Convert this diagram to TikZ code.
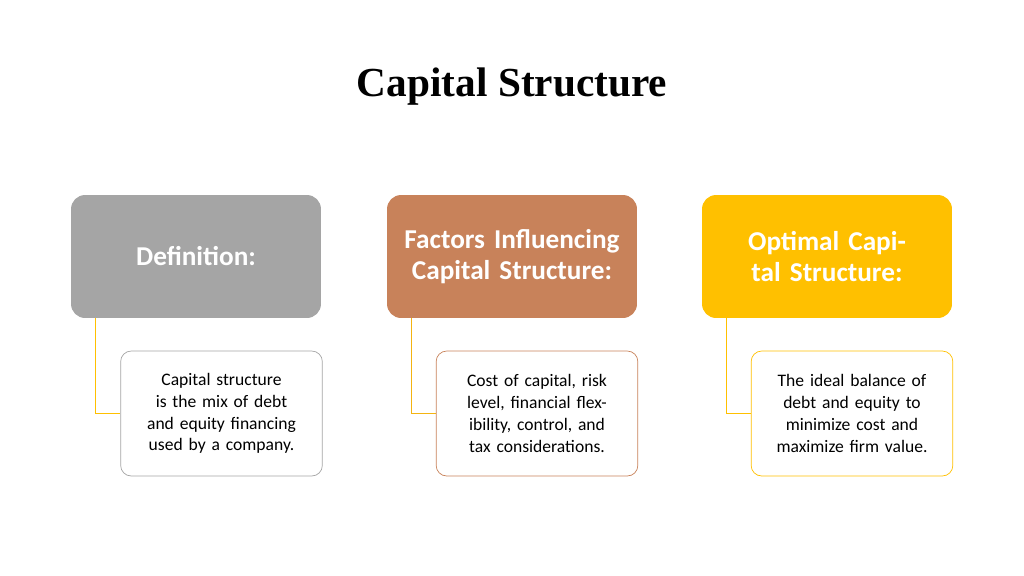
\documentclass[tikz,border=0pt]{standalone}
\usepackage{fontspec}
\setmainfont{Carlito}
\newfontfamily\titlefont{Liberation Serif}
\usetikzlibrary{positioning}
\definecolor{defgray}{HTML}{A5A5A5}
\definecolor{facbrown}{HTML}{C8825A}
\definecolor{optgold}{HTML}{FFC000}
\begin{document}
\begin{tikzpicture}[x=0.02cm,y=-0.02cm]
        \tikzstyle{head} = [rounded corners=8pt,minimum width=5cm,minimum height=2.46cm,
          text width=4.6cm,align=center,text=white,font=\fontsize{15.5}{17.5}\selectfont\bfseries]
        \tikzstyle{body} = [draw,fill=white,rounded corners=6pt,minimum width=4.02cm,minimum height=2.5cm,
          text width=3.8cm,align=center,font=\fontsize{10}{12.4}\selectfont]
        \tikzstyle{link} = [thin]
        \useasboundingbox (0,0) rectangle (1024,575);
        \node[font=\titlefont\fontsize{23.5}{26}\selectfont\bfseries] (title) at (512,87) {Capital Structure};

        \foreach \l/\x/\c/\t in {def/196/defgray/{Definition:},
          fac/512/facbrown/{Factors Influencing Capital Structure:},
          opt/827/optgold/{Optimal Capital Structure:}} {
          \node[head,fill=\c] (\l) at (\x,256.5) {\t};
        }
        \node[body,draw=defgray] (defb) at (221.5,413.5)
          {Capital structure is the mix of debt and equity financing used by a company.};
        \node[body,draw=facbrown] (facb) at (537,413.5)
          {Cost of capital, risk level, financial flexibility, control, and tax considerations.};
        \node[body,draw=optgold] (optb) at (852,413.5)
          {The ideal balance of debt and equity to minimize cost and maximize firm value.};

        \foreach \a/\c in {def/optgold, fac/optgold!80!facbrown, opt/optgold} {
          \draw[link,\c] ([xshift=0.5cm]\a.south west) |- (\a b.west);
        }
\end{tikzpicture}
\end{document}
